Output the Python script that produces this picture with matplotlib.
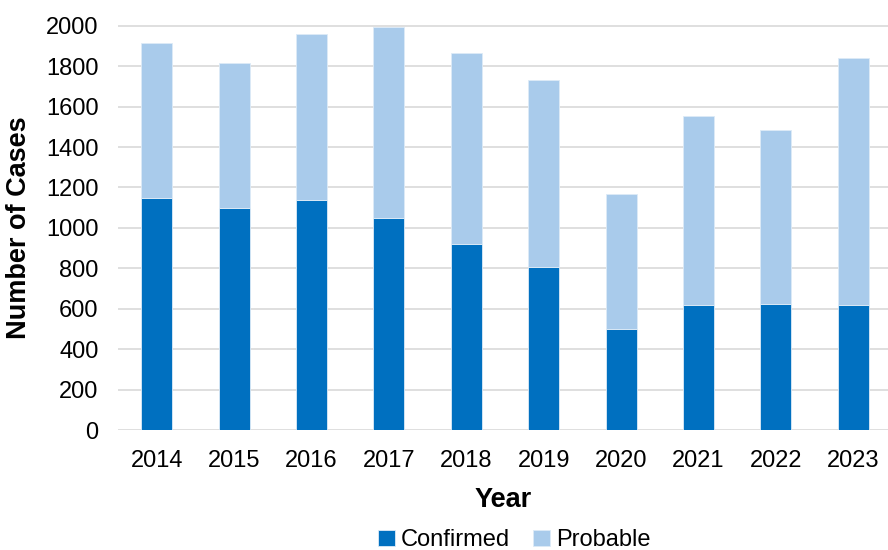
import matplotlib
matplotlib.use("Agg")
import matplotlib.pyplot as plt
import numpy as np

plt.rcParams['font.family'] = ['Liberation Sans', 'DejaVu Sans']

years = ["2014", "2015", "2016", "2017", "2018", "2019", "2020", "2021", "2022", "2023"]
confirmed = [1149, 1100, 1136, 1047, 922, 809, 502, 617, 626, 617]
probable = [766, 714, 823, 945, 943, 923, 667, 937, 859, 1223]
y_ticks = [0, 200, 400, 600, 800, 1000, 1200, 1400, 1600, 1800, 2000]

dark = "#0070C0"
light = "#A9CBEB"

fig = plt.figure(figsize=(8.88, 5.5), dpi=100)
ax = fig.add_axes([0.133, 0.218, 0.867, 0.737])

x = np.arange(len(years))
w = 0.40
ax.bar(x, confirmed, width=w, color=dark, edgecolor="#DDEBF7", linewidth=0.6,
       label="Confirmed", zorder=3)
ax.bar(x, probable, width=w, bottom=confirmed, color=light, edgecolor="#DDEBF7",
       linewidth=0.6, label="Probable", zorder=3)

ax.set_xlim(-0.5, 9.45)
ax.set_ylim(0, 2005)
ax.set_yticks(y_ticks)
ax.set_xticks(x)
ax.set_xticklabels(years)
ax.yaxis.grid(True, color="#D9D9D9", linewidth=1.2, zorder=0)
ax.set_axisbelow(True)
for s in ax.spines.values():
    s.set_visible(False)
ax.tick_params(axis="both", length=0, labelsize=17, colors="#000000")
ax.tick_params(axis="y", pad=14)
ax.tick_params(axis="x", pad=14)

ax.set_ylabel("Number of Cases", fontsize=19.5, fontweight="bold", labelpad=10)
ax.set_xlabel("Year", fontsize=19.5, fontweight="bold", labelpad=11)

fig.legend(loc="center", bbox_to_anchor=(0.579, 0.018), ncol=2, frameon=False,
           fontsize=17, handlelength=0.7, handleheight=0.7, handletextpad=0.25,
           columnspacing=1.0, borderaxespad=0)

fig.savefig("out.png", dpi=100)
